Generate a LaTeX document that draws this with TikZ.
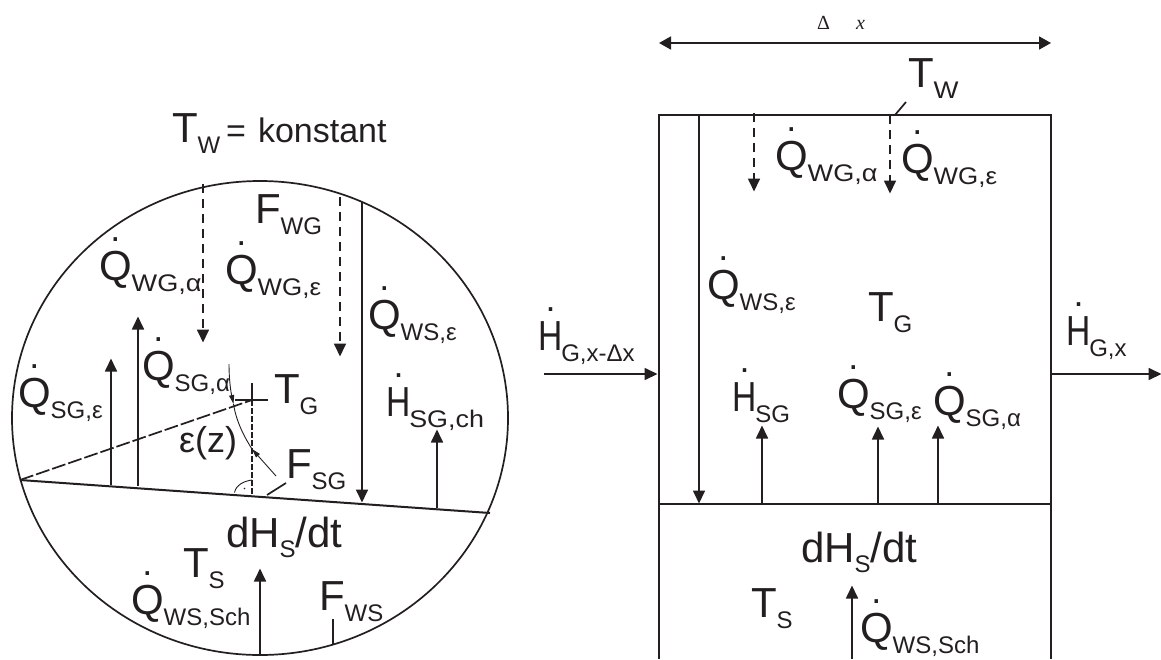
\documentclass[tikz,border=0pt]{standalone}
\usepackage{graphicx}
\usepackage{fontspec}
\setmainfont{Liberation Sans}
\newfontfamily\seriffam{Liberation Serif}
\usetikzlibrary{arrows.meta}
\definecolor{ink}{HTML}{231F20}
\newcommand\bigf{\fontsize{42}{42}\selectfont}
\newcommand\subf{\fontsize{24}{24}\selectfont}
\newcommand\lab[3][1]{{\bigf #2}\raisebox{-11pt}{\scalebox{#1}[1]{\subf #3}}}
\newcommand\dotover[1]{\setbox0\hbox{\bigf #1}\hbox to 0pt{\hbox to \wd0{\hfil\raisebox{38.5pt}{\fontsize{36}{36}\selectfont.}\hfil}\hss}\box0}
\newcommand\narrowH{\kern-2pt\scalebox{.8}[1]{\bigf H}\kern-1pt}
\tikzset{
  lbl/.style={inner sep=0pt,outer sep=0pt,anchor=base west,text=ink},
  line/.style={draw=ink,line width=1.7pt},
  arr/.style={line,-{Triangle[length=13pt,width=12pt]},shorten >=-0.5pt},
  darr/.style={arr,dash pattern=on 9pt off 6pt},
  smallarr/.style={draw=ink,line width=0.9pt,-{Triangle[length=9pt,width=5pt]}},
  dimarr/.style={draw=ink,line width=1.8pt,{Triangle[length=12pt,width=13pt]}-{Triangle[length=12pt,width=13pt]}}
}
\begin{document}
\begin{tikzpicture}[x=1pt,y=-1pt]
\useasboundingbox (0,0) rectangle (1161,659);
% ---- left: cross-section
\draw[ink,line width=1.7pt] (260,418) ellipse [x radius=248pt,y radius=237pt];
\coordinate (sl) at (20,480); \coordinate (sr) at (490,513);
\draw[ink,line width=2pt] (sl) -- (sr);
\coordinate (tg) at (252,400);
\coordinate (tgl) at (235,400); \coordinate (tgr) at (268,400);
\coordinate (tgt) at (252,383); \coordinate (foot) at (252,494);
\draw[line,dash pattern=on 14pt off 3pt] (sl) -- (tg);
\draw[line] (tgl) -- (tgr);
\draw[line] (tgt) -- (tg);
\draw[line,dash pattern=on 6pt off 2pt] (tg) -- (foot);
\coordinate (raa) at (234.5,492.5); \coordinate (rab) at (252,480);
\draw[draw=ink,line width=0.9pt] (raa) .. controls (236,485) and (244,481) .. (rab);
\fill[ink] (244.5,488.5) circle (0.9pt);
% angle arc
\coordinate (ea) at (229,364); \coordinate (eb) at (233.5,404);
\coordinate (ec) at (252,449); \coordinate (ed) at (276,476);
\draw[smallarr] (ea) .. controls (229,378) and (230.5,390) .. (eb);
\draw[draw=ink,line width=0.9pt] (eb) .. controls (236,420) and (243,435) .. (ec);
\draw[smallarr] (ed) -- (ec);
% left arrows
\coordinate (a1a) at (111,485); \coordinate (a1b) at (111,359);
\coordinate (a2a) at (138,486); \coordinate (a2b) at (138,317);
\coordinate (a3a) at (362,202); \coordinate (a3b) at (362,502);
\coordinate (a4a) at (437,508); \coordinate (a4b) at (437,430);
\coordinate (a5a) at (260,655); \coordinate (a5b) at (260,569);
\coordinate (a6a) at (333,619); \coordinate (a6b) at (333,645);
\coordinate (a7a) at (203,184); \coordinate (a7b) at (203,342);
\coordinate (a8a) at (340,197); \coordinate (a8b) at (340,356);
\coordinate (fsga) at (267,495); \coordinate (fsgb) at (286,483);
\draw[arr] (a1a) -- (a1b);
\draw[arr] (a2a) -- (a2b);
\draw[arr] (a3a) -- (a3b);
\draw[arr] (a4a) -- (a4b);
\draw[arr] (a5a) -- (a5b);
\draw[line] (a6a) -- (a6b);
\draw[darr] (a7a) -- (a7b);
\draw[darr] (a8a) -- (a8b);
\draw[line] (fsga) -- (fsgb);
% left labels
\node[lbl] (ltw) at (172,142) {\lab{T}{W}};
\node[lbl] (leq) at (226,142) {\fontsize{34}{34}\selectfont =};
\node[lbl] (lk) at (258,142) {\fontsize{34}{34}\selectfont konstant};
\node[lbl] (lfwg) at (255,223) {\lab{F}{WG}};
\node[lbl] (lqwga) at (99,280) {\lab[1.13]{\dotover{Q}}{WG,α}};
\node[lbl] (lqwge) at (225,284) {\lab[1.08]{\dotover{Q}}{WG,ε}};
\node[lbl] (lqwse) at (368,329) {\lab{\dotover{Q}}{WS,ε}};
\node[lbl] (lqsga) at (142,380) {\lab{\dotover{Q}}{SG,α}};
\node[lbl] (lqsge) at (18,407) {\lab{\dotover{Q}}{SG,ε}};
\node[lbl] (ltg) at (274,403) {\lab{T}{G}};
\node[lbl] (lhsg) at (388,416) {\lab[1.12]{\dotover{\narrowH}}{SG,ch}};
\node[lbl] (leps) at (179,452) {\fontsize{36}{36}\selectfont ε(z)};
\node[lbl] (lfsg) at (286,478) {\lab{F}{SG}};
\node[lbl] (ldh) at (226,547) {{\bigf dH}\raisebox{-10pt}{\subf S}{\bigf /dt}};
\node[lbl] (lts) at (183,577) {\lab{T}{S}};
\node[lbl] (lqwss) at (131,614) {\lab{\dotover{Q}}{WS,Sch}};
\node[lbl] (lfws) at (319,610) {\lab{F}{WS}};
% ---- right: balance element
\coordinate (bl) at (659,115); \coordinate (br) at (1051,115);
\coordinate (ml) at (659,504); \coordinate (mr) at (1051,504);
\coordinate (dl) at (659,659); \coordinate (dr) at (1051,659);
\draw[ink,line width=1.7pt] (dl) -- (bl) -- (br) -- (dr);
\draw[ink,line width=1.7pt] (ml) -- (mr);
\coordinate (xl) at (659,43); \coordinate (xr) at (1051,43);
\draw[dimarr] (xl) -- (xr);
\node[lbl] (dx) at (817,29) {\seriffam\fontsize{20}{20}\selectfont Δ};
\node[lbl] (xx) at (856,29) {\seriffam\itshape\fontsize{20}{20}\selectfont x};
\coordinate (twa) at (906,102); \coordinate (twb) at (895,115);
\draw[line] (twa) -- (twb);
\coordinate (b1a) at (699,115); \coordinate (b1b) at (699,503);
\coordinate (b2a) at (754,113); \coordinate (b2b) at (754,191);
\coordinate (b3a) at (890,115); \coordinate (b3b) at (890,193);
\coordinate (b4a) at (762,504); \coordinate (b4b) at (762,426);
\coordinate (b5a) at (878,504); \coordinate (b5b) at (878,427);
\coordinate (b6a) at (938,504); \coordinate (b6b) at (938,426);
\coordinate (b7a) at (852,659); \coordinate (b7b) at (852,586);
\coordinate (b8a) at (544,374); \coordinate (b8b) at (657,374);
\coordinate (b9a) at (1051,374); \coordinate (b9b) at (1161,374);
\draw[arr] (b1a) -- (b1b);
\draw[darr] (b2a) -- (b2b);
\draw[darr] (b3a) -- (b3b);
\draw[arr] (b4a) -- (b4b);
\draw[arr] (b5a) -- (b5b);
\draw[arr] (b6a) -- (b6b);
\draw[arr] (b7a) -- (b7b);
\draw[arr] (b8a) -- (b8b);
\draw[arr] (b9a) -- (b9b);
% right labels
\node[lbl] (rtw) at (908,87) {\lab[1.1]{T}{W}};
\node[lbl] (rqwga) at (775,170) {\lab[1.13]{\dotover{Q}}{WG,α}};
\node[lbl] (rqwge) at (901,173) {\lab[1.08]{\dotover{Q}}{WG,ε}};
\node[lbl] (rqwse) at (707,299) {\lab{\dotover{Q}}{WS,ε}};
\node[lbl] (rtg) at (868,321) {\lab{T}{G}};
\node[lbl] (rhin) at (540,350) {\lab{\dotover{\narrowH}}{G,x-Δx}};
\node[lbl] (rhout) at (1068,345) {\lab{\dotover{\narrowH}}{G,x}};
\node[lbl] (rhsg) at (734,411) {\lab{\dotover{\narrowH}}{SG}};
\node[lbl] (rqsge) at (837,408) {\lab{\dotover{Q}}{SG,ε}};
\node[lbl] (rqsga) at (933,415) {\lab{\dotover{Q}}{SG,α}};
\node[lbl] (rdh) at (801,562) {{\bigf dH}\raisebox{-10pt}{\subf S}{\bigf /dt}};
\node[lbl] (rts) at (751,617) {\lab{T}{S}};
\node[lbl] (rqwss) at (860,642) {\lab{\dotover{Q}}{WS,Sch}};
\end{tikzpicture}
\end{document}
